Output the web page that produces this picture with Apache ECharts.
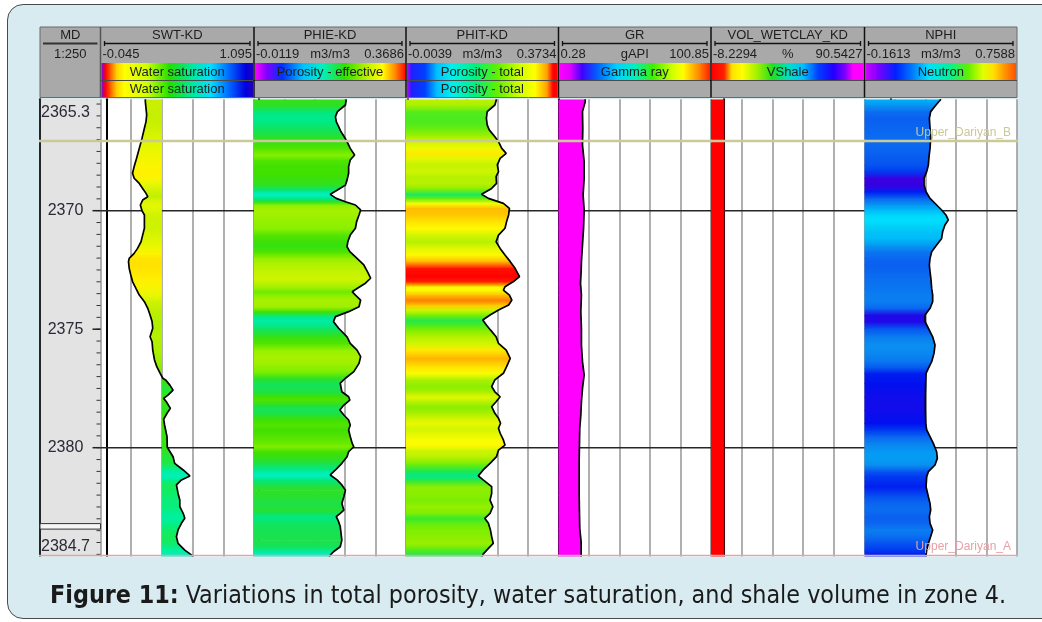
<!DOCTYPE html>
<html>
<head>
<meta charset="utf-8">
<title>Zone 4 log display</title>
<script src="https://cdn.jsdelivr.net/npm/echarts@6/dist/echarts.min.js"></script>
<style>
  html, body { margin: 0; padding: 0; background: #ffffff; overflow: hidden; }
  #frame { position: absolute; left: 7px; top: 4px; width: 1070px; height: 613px;
           border: 1.5px solid #4a4a4a; border-radius: 16px; background: #d7ebf1; }
  #chart { position: absolute; left: 0; top: 0; width: 1042px; height: 622px; }
</style>
</head>
<body>
<div id="frame"></div>
<div id="chart"></div>
<script>
// ---------------- depth scale ----------------
const DEPTH_MIN = 2365.3;
const DEPTH_MAX = 2384.7;
const DEPTH_LABELS = [2365.3, 2370, 2375, 2380, 2384.7];
const DEPTH_GRID_LINES = [2370, 2380];
const DEPTH_TICK_STEP = 0.5;

// ---------------- tracks ----------------
const TRACK_NAMES = ['SWT-KD', 'PHIE-KD', 'PHIT-KD', 'GR', 'VOL_WETCLAY_KD', 'NPHI'];
const TRACK_MIN = [-0.045, -0.0119, -0.0039, 0.28, -8.2294, -0.1613];
const TRACK_MAX = [1.095, 0.3686, 0.3734, 100.85, 90.5427, 0.7588];
const TRACK_UNITS = ['', 'm3/m3', 'm3/m3', 'gAPI', '%', 'm3/m3'];
const TRACK_LEGENDS = ['Water saturation', 'Porosity - effective', 'Porosity - total', 'Gamma ray', 'VShale', 'Neutron'];
const TRACK_LEGENDS_2 = ['Water saturation', null, 'Porosity - total', null, null, null];
const MD_TITLE = 'MD';
const MD_SCALE = '1:250';

// water-saturation shading is drawn against this cutoff
const SW_CUTOFF = 0.411;

// ---------------- formation tops ----------------
const TOP_NAMES = ['Upper_Dariyan_B', 'Upper_Dariyan_A'];
const TOP_DEPTHS = [2367.06, 2384.55];

// ---------------- curves ----------------
const SWT_DEPTH = [2365.30, 2365.40, 2365.68, 2365.96, 2366.24, 2366.52, 2366.95, 2367.37, 2367.79, 2368.14,
  2368.42, 2368.63, 2368.85, 2369.06, 2369.27, 2369.41, 2369.55, 2369.76, 2370.00, 2370.18,
  2370.46, 2370.74, 2371.03, 2371.31, 2371.59, 2371.80, 2372.01, 2372.15, 2372.43, 2372.71,
  2372.99, 2373.28, 2373.56, 2373.84, 2374.12, 2374.40, 2374.68, 2374.96, 2375.32, 2375.53,
  2375.88, 2376.30, 2376.58, 2376.86, 2377.07, 2377.14, 2377.35, 2377.57, 2377.78, 2377.92,
  2378.06, 2378.34, 2378.55, 2378.80, 2379.04, 2379.53, 2379.98, 2380.38, 2380.66, 2380.94,
  2381.19, 2381.36, 2381.57, 2381.93, 2382.21, 2382.49, 2382.77, 2382.98, 2383.19, 2383.47,
  2383.75, 2384.04, 2384.32, 2384.53, 2384.70];
const SWT = [0.288, 0.288, 0.293, 0.298, 0.293, 0.281, 0.263, 0.243, 0.223, 0.205,
  0.193, 0.205, 0.243, 0.268, 0.293, 0.306, 0.268, 0.251, 0.263, 0.281,
  0.281, 0.281, 0.268, 0.256, 0.230, 0.205, 0.168, 0.163, 0.168, 0.180,
  0.193, 0.218, 0.243, 0.281, 0.306, 0.323, 0.338, 0.343, 0.323, 0.338,
  0.343, 0.356, 0.373, 0.398, 0.418, 0.438, 0.469, 0.494, 0.456, 0.424,
  0.444, 0.474, 0.449, 0.424, 0.431, 0.449, 0.451, 0.494, 0.506, 0.569,
  0.619, 0.556, 0.519, 0.531, 0.544, 0.544, 0.569, 0.581, 0.556, 0.531,
  0.519, 0.531, 0.581, 0.632, 0.650];

const PHIE_DEPTH = [2365.30, 2365.37, 2365.54, 2365.82, 2366.03, 2366.24, 2366.45, 2366.67, 2366.88, 2367.09,
  2367.37, 2367.65, 2367.86, 2368.14, 2368.42, 2368.71, 2368.92, 2369.13, 2369.31, 2369.48,
  2369.62, 2369.76, 2369.97, 2370.18, 2370.46, 2370.74, 2371.03, 2371.31, 2371.52, 2371.73,
  2372.01, 2372.29, 2372.57, 2372.85, 2373.06, 2373.28, 2373.42, 2373.56, 2373.77, 2374.05,
  2374.26, 2374.47, 2374.68, 2374.96, 2375.32, 2375.60, 2375.88, 2376.16, 2376.44, 2376.79,
  2377.07, 2377.28, 2377.64, 2377.85, 2377.99, 2378.20, 2378.41, 2378.62, 2378.83, 2379.04,
  2379.25, 2379.53, 2379.82, 2379.96, 2380.17, 2380.38, 2380.66, 2380.94, 2381.15, 2381.36,
  2381.57, 2381.79, 2382.07, 2382.35, 2382.63, 2382.77, 2382.91, 2383.12, 2383.33, 2383.61,
  2383.90, 2384.18, 2384.39, 2384.53, 2384.70];
const PHIE = [0.219, 0.219, 0.217, 0.197, 0.192, 0.194, 0.200, 0.206, 0.214, 0.221,
  0.229, 0.240, 0.229, 0.225, 0.225, 0.221, 0.217, 0.197, 0.179, 0.194,
  0.217, 0.242, 0.255, 0.251, 0.245, 0.242, 0.229, 0.223, 0.221, 0.228,
  0.246, 0.263, 0.272, 0.280, 0.267, 0.246, 0.234, 0.242, 0.255, 0.251,
  0.225, 0.192, 0.187, 0.200, 0.221, 0.229, 0.246, 0.255, 0.251, 0.238,
  0.217, 0.204, 0.208, 0.225, 0.228, 0.213, 0.203, 0.213, 0.225, 0.229,
  0.225, 0.229, 0.234, 0.238, 0.225, 0.221, 0.208, 0.192, 0.179, 0.196,
  0.208, 0.217, 0.213, 0.208, 0.213, 0.204, 0.194, 0.200, 0.204, 0.206,
  0.208, 0.204, 0.187, 0.179, 0.175];

const PHIT_DEPTH = [2365.30, 2365.37, 2365.54, 2365.82, 2366.10, 2366.38, 2366.59, 2366.88, 2367.09, 2367.37,
  2367.58, 2367.79, 2368.07, 2368.35, 2368.56, 2368.85, 2369.06, 2369.31, 2369.48, 2369.69,
  2369.90, 2370.18, 2370.46, 2370.74, 2371.03, 2371.31, 2371.59, 2371.87, 2372.15, 2372.43,
  2372.78, 2372.99, 2373.21, 2373.35, 2373.56, 2373.77, 2373.98, 2374.19, 2374.40, 2374.61,
  2374.82, 2375.03, 2375.32, 2375.60, 2375.88, 2376.23, 2376.58, 2376.86, 2377.14, 2377.42,
  2377.64, 2377.85, 2378.06, 2378.27, 2378.55, 2378.76, 2378.97, 2379.18, 2379.39, 2379.67,
  2379.89, 2380.10, 2380.38, 2380.66, 2380.94, 2381.19, 2381.36, 2381.64, 2381.93, 2382.21,
  2382.49, 2382.77, 2382.98, 2383.19, 2383.47, 2383.75, 2384.04, 2384.25, 2384.49, 2384.70];
const PHIT = [0.220, 0.220, 0.216, 0.197, 0.195, 0.197, 0.202, 0.216, 0.225, 0.233,
  0.244, 0.229, 0.222, 0.225, 0.219, 0.220, 0.208, 0.183, 0.200, 0.237,
  0.252, 0.250, 0.245, 0.241, 0.225, 0.219, 0.229, 0.241, 0.254, 0.266,
  0.277, 0.262, 0.241, 0.237, 0.252, 0.258, 0.250, 0.225, 0.204, 0.186,
  0.195, 0.205, 0.219, 0.225, 0.244, 0.254, 0.245, 0.237, 0.216, 0.208,
  0.216, 0.229, 0.219, 0.208, 0.216, 0.225, 0.230, 0.225, 0.229, 0.237,
  0.241, 0.225, 0.220, 0.204, 0.187, 0.175, 0.187, 0.208, 0.208, 0.204,
  0.211, 0.204, 0.191, 0.200, 0.205, 0.208, 0.212, 0.200, 0.187, 0.182];

const GR_DEPTH = [2365.30, 2365.40, 2365.82, 2366.52, 2367.23, 2367.93, 2368.63, 2369.34, 2369.97, 2370.74,
  2371.45, 2372.15, 2372.57, 2373.06, 2373.56, 2374.26, 2374.96, 2375.67, 2376.37, 2376.93,
  2377.50, 2378.06, 2378.62, 2379.18, 2379.89, 2380.59, 2381.29, 2382.00, 2382.70, 2383.40,
  2383.97, 2384.39, 2384.70];
const GR = [17.9, 17.9, 16.1, 16.3, 16.1, 17.2, 17.2, 16.5, 17.2, 16.8,
  16.1, 15.4, 15.2, 14.8, 15.4, 15.0, 15.4, 15.4, 16.1, 17.2,
  16.1, 15.4, 15.0, 14.3, 14.1, 13.9, 13.9, 13.9, 14.1, 14.3,
  15.2, 15.2, 15.2];

const VSH_DEPTH = [2365.30, 2370.00, 2375.00, 2380.00, 2384.70];
const VSH = [0, 0, 0, 0, 0];

const NPHI_DEPTH = [2365.30, 2365.33, 2365.54, 2365.82, 2366.10, 2366.52, 2366.95, 2367.37, 2367.72, 2368.07,
  2368.35, 2368.63, 2368.92, 2369.20, 2369.48, 2369.76, 2369.97, 2370.18, 2370.39, 2370.60,
  2370.89, 2371.17, 2371.45, 2371.73, 2372.01, 2372.29, 2372.57, 2372.92, 2373.28, 2373.56,
  2373.84, 2374.12, 2374.40, 2374.68, 2374.96, 2375.32, 2375.67, 2376.02, 2376.37, 2376.65,
  2376.86, 2377.28, 2377.85, 2378.41, 2378.97, 2379.25, 2379.53, 2379.82, 2380.17, 2380.45,
  2380.73, 2381.01, 2381.22, 2381.64, 2382.07, 2382.35, 2382.63, 2382.91, 2383.19, 2383.47,
  2383.75, 2384.04, 2384.32, 2384.53, 2384.70];
const NPHI = [0.300, 0.294, 0.270, 0.238, 0.230, 0.234, 0.238, 0.234, 0.228, 0.224,
  0.214, 0.198, 0.198, 0.210, 0.234, 0.274, 0.304, 0.330, 0.344, 0.324,
  0.310, 0.304, 0.274, 0.244, 0.234, 0.230, 0.234, 0.240, 0.244, 0.250,
  0.250, 0.234, 0.204, 0.204, 0.224, 0.250, 0.264, 0.258, 0.244, 0.224,
  0.210, 0.208, 0.206, 0.206, 0.208, 0.214, 0.234, 0.254, 0.274, 0.278,
  0.264, 0.224, 0.214, 0.210, 0.224, 0.234, 0.238, 0.230, 0.234, 0.250,
  0.238, 0.224, 0.214, 0.210, 0.208];

const CURVE_DEPTHS = [SWT_DEPTH, PHIE_DEPTH, PHIT_DEPTH, GR_DEPTH, VSH_DEPTH, NPHI_DEPTH];
const CURVE_VALUES = [SWT, PHIE, PHIT, GR, VSH, NPHI];

// ---------------- styles and layout ----------------
const TRACK_EDGES = [40, 100.5, 254, 406, 558.5, 711, 864.5, 1017];
const PLOT_TOP = 99.3;
const PLOT_HEIGHT = 459.8;
const VISIBLE_BOTTOM = 556.5;
const DEPTH_LABEL_CENTER = 25.5;   // offset from the left of the depth track
const FRAME_BG = '#d7ebf1';
const HEADER_BG = '#a9a9a9';
const TEXT_FONT = '13px "Liberation Sans", Arial, sans-serif';
const DEPTH_FONT = '16px "Liberation Sans", Arial, sans-serif';
const TOP_FONT = '12px "Liberation Sans", Arial, sans-serif';
const CAPTION_FONT = '24px "Liberation Sans Narrow", "DejaVu Sans Condensed", "Liberation Sans", sans-serif';
const CAPTION_BOLD = 'Figure 11:';
const CAPTION_TEXT = ' Variations in total porosity, water saturation, and shale volume in zone 4.';
const CAPTION_SPAN = [50, 1006];
const CAPTION_Y = 597;
const TOP_COLORS = ['#c9c99a', '#e6a2a6'];
const TOP_WIDTHS = [2.5, 1.5];
const CURVE_COLORS = ['#000', '#000', '#000', '#000', '#ff0000', '#000'];

// colour of the shading as a function of curve value
const FILL_STOPS = [
  [[0.16, '#ffe000'], [0.2, '#fff400'], [0.25, '#e4f800'], [0.29, '#c8f000'], [0.34, '#b0f000'],
   [0.40, '#70e800'], [0.43, '#40e000'], [0.5, '#20e840'], [0.56, '#00f090'], [0.62, '#00f0c0']],
  [[0.18, '#00f0c8'], [0.195, '#00e880'], [0.21, '#20e040'], [0.225, '#40e000'], [0.24, '#88f000'],
   [0.255, '#a8f000'], [0.28, '#cef400']],
  [[0.175, '#00e890'], [0.19, '#30e830'], [0.205, '#80ee00'], [0.218, '#b0f000'], [0.23, '#e8f800'],
   [0.24, '#ffff00'], [0.25, '#ffc800'], [0.256, '#ffa800'], [0.262, '#ff2000'], [0.27, '#ff0000']],
  [[0, '#ff00ff']],
  [[0, '#ff0000']],
  [[0.198, '#3800e0'], [0.204, '#2008e8'], [0.208, '#0010f0'], [0.215, '#0040f0'], [0.23, '#0a60f0'],
   [0.245, '#0a78f0'], [0.265, '#0a90f0'], [0.29, '#00a8f8'], [0.32, '#00d0f8'], [0.345, '#00e0ff']]
];

// colour bars shown in the header
const HEADER_PALETTES = [
  [[0, '#7a00ff'], [0.025, '#ff0000'], [0.1, '#ffd000'], [0.15, '#ffff00'], [0.3, '#d0ff00'], [0.45, '#20e000'],
   [0.6, '#00e8a0'], [0.72, '#00e0ff'], [0.85, '#0060ff'], [0.95, '#0000e0'], [1, '#2000c0']],
  [[0, '#ff00ff'], [0.08, '#8000ff'], [0.18, '#0030ff'], [0.32, '#00c0ff'], [0.45, '#00f0c0'], [0.6, '#30e000'],
   [0.75, '#c0f000'], [0.85, '#ffff00'], [0.93, '#ff9000'], [1, '#ff1000']],
  [[0, '#c000ff'], [0.03, '#2020ff'], [0.12, '#0040ff'], [0.2, '#00c0ff'], [0.3, '#00f0f0'], [0.45, '#00f080'],
   [0.6, '#60f000'], [0.75, '#d0ff00'], [0.85, '#ffff00'], [0.93, '#ffa000'], [0.97, '#ff0000'], [1, '#ff0000']],
  [[0, '#ff00ff'], [0.07, '#e000ff'], [0.15, '#4000ff'], [0.25, '#0060ff'], [0.38, '#00d0ff'], [0.5, '#00f0c0'],
   [0.62, '#40f000'], [0.75, '#d0ff00'], [0.82, '#ffff00'], [0.92, '#ff9000'], [1, '#ff2000']],
  [[0, '#ff0000'], [0.08, '#ff2000'], [0.13, '#ffe000'], [0.2, '#ffff00'], [0.3, '#a0f000'], [0.4, '#20e020'],
   [0.5, '#00e0c0'], [0.6, '#00c0ff'], [0.7, '#0040ff'], [0.8, '#2000ff'], [0.88, '#8000ff'], [0.93, '#ff00ff'], [1, '#ff00ff']],
  [[0, '#d000ff'], [0.08, '#8000ff'], [0.2, '#0020ff'], [0.3, '#0070ff'], [0.42, '#00e0ff'], [0.55, '#00f0a0'],
   [0.68, '#60f000'], [0.78, '#e0ff00'], [0.85, '#ffe000'], [0.93, '#ff9000'], [1, '#ff5000']]
];

// ---------------- helpers ----------------
function hexRgb(h) {
  const n = parseInt(h.slice(1), 16);
  return [(n >> 16) & 255, (n >> 8) & 255, n & 255];
}
function colorAt(stops, v) {
  if (stops.length === 1 || v <= stops[0][0]) return stops[0][1];
  const last = stops[stops.length - 1];
  if (v >= last[0]) return last[1];
  for (let i = 0; i < stops.length - 1; i++) {
    const a = stops[i], b = stops[i + 1];
    if (v >= a[0] && v <= b[0]) {
      const t = (v - a[0]) / (b[0] - a[0]);
      const ca = hexRgb(a[1]), cb = hexRgb(b[1]);
      const c = ca.map((x, j) => Math.round(x + (cb[j] - x) * t));
      return 'rgb(' + c.join(',') + ')';
    }
  }
  return last[1];
}
function gradient(stops, horizontal) {
  return {
    type: 'linear', x: 0, y: 0, x2: horizontal ? 1 : 0, y2: horizontal ? 0 : 1,
    colorStops: stops.map(s => ({ offset: s[0], color: s[1] }))
  };
}
function textWidth(font, s) {
  const ctx = document.createElement('canvas').getContext('2d');
  ctx.font = font;
  return ctx.measureText(s).width;
}

// ---------------- grids and axes ----------------
const grids = [];
for (let g = 0; g < TRACK_EDGES.length - 1; g++) {
  grids.push({
    left: TRACK_EDGES[g], top: PLOT_TOP,
    width: TRACK_EDGES[g + 1] - TRACK_EDGES[g], height: PLOT_HEIGHT,
    show: true, backgroundColor: g === 0 ? '#e3e3e3' : '#ffffff', borderWidth: 0,
    containLabel: false, outerBoundsMode: 'none'
  });
}

const hidden = { axisLine: { show: false }, axisTick: { show: false }, axisLabel: { show: false }, splitLine: { show: false } };
const xAxes = [{ gridIndex: 0, type: 'value', min: 0, max: 1, ...hidden }];
const yAxes = [
  { gridIndex: 0, type: 'value', min: DEPTH_MIN, max: DEPTH_MAX, inverse: true, position: 'right', ...hidden,
    axisLine: { show: true, lineStyle: { color: '#000', width: 2 } } },
  { gridIndex: 0, type: 'value', min: DEPTH_MIN, max: DEPTH_MAX, inverse: true, position: 'left', ...hidden,
    axisLine: { show: true, lineStyle: { color: '#333', width: 1.5 } } }
];
TRACK_NAMES.forEach((name, k) => {
  // value axis of the curve
  xAxes.push({ gridIndex: k + 1, type: 'value', min: TRACK_MIN[k], max: TRACK_MAX[k], position: 'bottom', ...hidden });
  // five equal divisions for the vertical grid
  xAxes.push({ gridIndex: k + 1, type: 'value', min: 0, max: 5, interval: 1, position: 'top', ...hidden,
    splitLine: { show: true, lineStyle: { color: '#9c9c9c', width: 1.6 } } });
  yAxes.push({ gridIndex: k + 1, type: 'value', min: DEPTH_MIN, max: DEPTH_MAX, inverse: true, position: 'left', ...hidden,
    axisLine: { show: true, lineStyle: { color: '#000', width: 2 } } });
});

// ---------------- series ----------------
const series = [];

const DEPTH_TICKS = [];
for (let d = Math.ceil(DEPTH_MIN / DEPTH_TICK_STEP) * DEPTH_TICK_STEP; d < DEPTH_MAX; d += DEPTH_TICK_STEP) {
  DEPTH_TICKS.push(+d.toFixed(2));
}

// depth track: small ticks
series.push({
  type: 'custom', coordinateSystem: 'cartesian2d', xAxisIndex: 0, yAxisIndex: 0, z: 3,
  silent: true, animation: false,
  data: DEPTH_TICKS.map(d => [0, d]),
  renderItem(params, api) {
    const y = api.coord([0, api.value(1)])[1];
    const xr = params.coordSys.x + params.coordSys.width;
    return { type: 'line', shape: { x1: xr - 4, y1: y, x2: xr, y2: y }, style: { stroke: '#333', lineWidth: 1 } };
  }
});

// depth track: labels
series.push({
  type: 'custom', coordinateSystem: 'cartesian2d', xAxisIndex: 0, yAxisIndex: 0, z: 4,
  silent: true, animation: false, clip: false,
  data: DEPTH_LABELS.map(d => [0, d]),
  renderItem(params, api) {
    const d = api.value(1);
    const y = api.coord([0, d])[1];
    const xl = params.coordSys.x;
    const xr = xl + params.coordSys.width;
    const children = [];
    let ty = y, va = 'middle';
    if (params.dataIndex === 0) {
      ty = y + 5; va = 'top';
    } else if (params.dataIndex === DEPTH_LABELS.length - 1) {
      ty = y - 4.5; va = 'bottom';
      children.push({ type: 'rect', shape: { x: xl, y: y - 35.5, width: xr - xl, height: 5.5 },
        style: { fill: '#f6f6f6', stroke: '#333', lineWidth: 1 } });
    } else {
      children.push({ type: 'line', shape: { x1: xr - 8, y1: y, x2: xr, y2: y }, style: { stroke: '#222', lineWidth: 1.5 } });
    }
    children.push({ type: 'text', style: { text: String(d), x: xl + DEPTH_LABEL_CENTER, y: ty, textAlign: 'center', align: 'center',
      textVerticalAlign: va, verticalAlign: va, font: DEPTH_FONT, fill: '#2a2a38' } });
    return { type: 'group', children };
  }
});

// formation tops across every track
function topSeries(xIdx, yIdx, xmin, withLabel) {
  return {
    type: 'custom', coordinateSystem: 'cartesian2d', xAxisIndex: xIdx, yAxisIndex: yIdx, z: 6,
    silent: true, animation: false, clip: false,
    data: TOP_DEPTHS.map(d => [xmin, d]),
    renderItem(params, api) {
      const i = params.dataIndex;
      const y = api.coord([xmin, api.value(1)])[1];
      const xl = params.coordSys.x, xr = xl + params.coordSys.width;
      const children = [{ type: 'line', shape: { x1: xl - 1, y1: y, x2: xr + 1, y2: y },
        style: { stroke: TOP_COLORS[i], lineWidth: TOP_WIDTHS[i] } }];
      if (withLabel) {
        children.push({ type: 'text', style: { text: TOP_NAMES[i], x: xr - 6, y: y - 2.5,
          textAlign: 'right', align: 'right', textVerticalAlign: 'bottom', verticalAlign: 'bottom',
          font: TOP_FONT, fill: TOP_COLORS[i] } });
      }
      return { type: 'group', children };
    }
  };
}
series.push(topSeries(0, 0, 0, false));

TRACK_NAMES.forEach((name, k) => {
  const xIdx = 1 + 2 * k, yIdx = 2 + k;
  const D = CURVE_DEPTHS[k], V = CURVE_VALUES[k];
  const base = k === 0 ? SW_CUTOFF : TRACK_MIN[k];
  const stops = FILL_STOPS[k];
  const xmin = TRACK_MIN[k];

  // major depth lines
  series.push({
    type: 'custom', coordinateSystem: 'cartesian2d', xAxisIndex: xIdx, yAxisIndex: yIdx, z: 1,
    silent: true, animation: false,
    data: DEPTH_GRID_LINES.map(d => [xmin, d]),
    renderItem(params, api) {
      const y = api.coord([xmin, api.value(1)])[1];
      const xl = params.coordSys.x, xr = xl + params.coordSys.width;
      return { type: 'line', shape: { x1: xl, y1: y, x2: xr, y2: y }, style: { stroke: '#262626', lineWidth: 1.5 } };
    }
  });

  // colour shading between curve and its baseline
  series.push({
    type: 'custom', name: name + ' fill', coordinateSystem: 'cartesian2d', xAxisIndex: xIdx, yAxisIndex: yIdx, z: 2,
    silent: true, animation: false, clip: true,
    data: D.map((d, i) => [V[i], d]),
    renderItem(params, api) {
      const i = params.dataIndex;
      if (i >= D.length - 1) return null;
      const p0 = api.coord([V[i], D[i]]), p1 = api.coord([V[i + 1], D[i + 1]]);
      const b0 = api.coord([base, D[i]]), b1 = api.coord([base, D[i + 1]]);
      const c0 = colorAt(stops, V[i]), c1 = colorAt(stops, V[i + 1]);
      return {
        type: 'polygon',
        shape: { points: [[b0[0], b0[1]], [p0[0], p0[1]], [p1[0], p1[1] + 0.7], [b1[0], b1[1] + 0.7]] },
        style: { fill: { type: 'linear', x: 0, y: 0, x2: 0, y2: 1,
          colorStops: [{ offset: 0, color: c0 }, { offset: 1, color: c1 }] }, lineWidth: 0 }
      };
    }
  });

  // the curve itself
  series.push({
    type: 'line', name, xAxisIndex: xIdx, yAxisIndex: yIdx, z: 3,
    data: D.map((d, i) => [V[i], d]),
    symbol: 'none', silent: true, animation: false, clip: true,
    lineStyle: { color: CURVE_COLORS[k], width: k === 4 ? 1 : 1.7 }
  });

  series.push(topSeries(xIdx, yIdx, xmin, k === TRACK_NAMES.length - 1));
});

// ---------------- header and caption ----------------
const H = { top: 27, bottom: 97.5, titleY: 35.5, barY: 43.5, scaleY: 54.5, leg1: [63, 80], leg2: [81, 97] };
const gfx = [];
function txt(text, x, y, align, font, fill) {
  return { type: 'text', silent: true, style: { text, x, y, textAlign: align, align, textVerticalAlign: 'middle',
    verticalAlign: 'middle', font: font || TEXT_FONT, fill: fill || '#1e1e1e' } };
}
function line(x1, y1, x2, y2, stroke, w) {
  return { type: 'line', silent: true, shape: { x1, y1, x2, y2 }, style: { stroke, lineWidth: w } };
}
const L0 = TRACK_EDGES[0], R0 = TRACK_EDGES[TRACK_EDGES.length - 1];
gfx.push({ type: 'rect', silent: true, shape: { x: L0, y: H.top, width: R0 - L0, height: H.bottom - H.top },
  style: { fill: HEADER_BG, stroke: '#6a6a6a', lineWidth: 1 } });

// depth column header
const mdL = TRACK_EDGES[0], mdR = TRACK_EDGES[1];
gfx.push(txt(MD_TITLE, (mdL + mdR) / 2, H.titleY, 'center'));
gfx.push(line(mdL + 3, H.barY, mdR - 3, H.barY, '#333', 2));
gfx.push(txt(MD_SCALE, (mdL + mdR) / 2, H.scaleY, 'center'));

TRACK_NAMES.forEach((name, k) => {
  const L = TRACK_EDGES[k + 1], R = TRACK_EDGES[k + 2], C = (L + R) / 2;
  gfx.push(txt(name, C, H.titleY, 'center'));
  gfx.push(line(L + 4, H.barY, R - 4, H.barY, '#111', 1.3));
  gfx.push(line(L + 4, H.barY - 2.5, L + 4, H.barY + 2.5, '#111', 1.3));
  gfx.push(line(R - 4, H.barY - 2.5, R - 4, H.barY + 2.5, '#111', 1.3));
  gfx.push(txt(String(TRACK_MIN[k]), L + 2, H.scaleY, 'left'));
  gfx.push(txt(String(TRACK_MAX[k]), R - 2, H.scaleY, 'right'));
  if (TRACK_UNITS[k]) gfx.push(txt(TRACK_UNITS[k], C, H.scaleY, 'center'));
  gfx.push({ type: 'rect', silent: true, shape: { x: L + 1, y: H.leg1[0], width: R - L - 2, height: H.leg1[1] - H.leg1[0] },
    style: { fill: gradient(HEADER_PALETTES[k], true) } });
  gfx.push(txt(TRACK_LEGENDS[k], C, (H.leg1[0] + H.leg1[1]) / 2 + 0.5, 'center'));
  if (TRACK_LEGENDS_2[k]) {
    gfx.push({ type: 'rect', silent: true, shape: { x: L + 1, y: H.leg2[0], width: R - L - 2, height: H.leg2[1] - H.leg2[0] },
      style: { fill: gradient(HEADER_PALETTES[k], true) } });
    gfx.push(txt(TRACK_LEGENDS_2[k], C, (H.leg2[0] + H.leg2[1]) / 2 + 0.5, 'center'));
  }
});
gfx.push(line(TRACK_EDGES[1], H.leg1[1] + 0.5, R0, H.leg1[1] + 0.5, '#4a4a4a', 1));
TRACK_EDGES.slice(1, -1).forEach((x, i) => {
  gfx.push(line(x, H.top, x, H.bottom, i === 0 ? '#555' : '#111', 1.5));
});

// bottom edge of the log panel
gfx.push({ type: 'rect', silent: true, z: 100, shape: { x: L0 - 4, y: VISIBLE_BOTTOM, width: R0 - L0 + 8, height: 8 },
  style: { fill: FRAME_BG } });

// caption
const boldFont = 'bold ' + CAPTION_FONT;
const capW = textWidth(boldFont, CAPTION_BOLD) + textWidth(CAPTION_FONT, CAPTION_TEXT);
const capScale = (CAPTION_SPAN[1] - CAPTION_SPAN[0]) / capW;
gfx.push({ type: 'text', silent: true, z: 101, x: (CAPTION_SPAN[0] + CAPTION_SPAN[1]) / 2, y: CAPTION_Y, scaleX: capScale,
  style: { text: '{b|' + CAPTION_BOLD + '}' + CAPTION_TEXT, x: 0, y: 0, font: CAPTION_FONT, fill: '#1a1a1a',
    textAlign: 'center', align: 'center', textVerticalAlign: 'middle', verticalAlign: 'middle',
    rich: { b: { font: boldFont, fill: '#1a1a1a' } } } });

// ---------------- render ----------------
const chart = echarts.init(document.getElementById('chart'), null, { renderer: 'canvas', width: 1042, height: 622 });
chart.setOption({
  animation: false,
  backgroundColor: 'transparent',
  grid: grids,
  xAxis: xAxes,
  yAxis: yAxes,
  series,
  graphic: { elements: gfx }
});
</script>
</body>
</html>
